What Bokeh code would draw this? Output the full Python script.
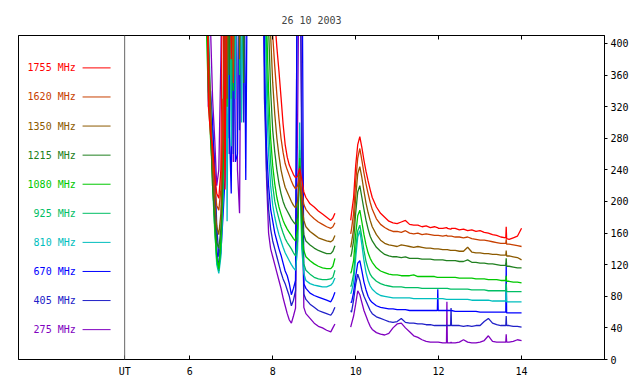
import math
from bokeh.plotting import figure
from bokeh.models import Range1d, LinearAxis, FixedTicker, Span
from bokeh.embed import file_html
from bokeh.resources import INLINE
from bokeh.core.properties import value

TITLE = "26 10 2003"
labels = ["1755 MHz", "1620 MHz", "1350 MHz", "1215 MHz", "1080 MHz",
          "925 MHz", "810 MHz", "670 MHz", "405 MHz", "275 MHz"]
colors = ["#ff0000", "#c84000", "#8c5a00", "#208020", "#00c800",
          "#00be64", "#00bebe", "#0000ff", "#2020c8", "#8000c0"]

x_ticks = [6, 8, 10, 12, 14]
y_ticks = [0, 40, 80, 120, 160, 200, 240, 280, 320, 360, 400]
UT_POS = 4.43

# time (UT hours), first part: burst and decay, second part after data gap
t_a = [6.40, 6.45, 6.50, 6.55, 6.60, 6.65, 6.70, 6.75, 6.80, 6.85, 6.90, 6.95, 7.00,
       7.05, 7.10, 7.15, 7.20, 7.25, 7.30, 7.35, 7.40,
       7.75, 7.80, 7.85, 7.90, 7.95, 8.00, 8.05, 8.10, 8.15, 8.20, 8.25, 8.30, 8.35,
       8.40, 8.45, 8.50, 8.55, 8.60, 8.65, 8.70, 8.75, 8.80, 8.90, 9.00, 9.10, 9.20,
       9.30, 9.40, 9.45, 9.50]
t_b = [9.88, 9.90, 9.95, 10.0, 10.05, 10.1, 10.15, 10.2, 10.25, 10.3, 10.35, 10.4,
       10.5, 10.6, 10.7, 10.8, 10.9, 11.0, 11.1, 11.2, 11.3, 11.4, 11.5, 11.6, 11.7,
       11.8, 11.9, 11.97, 11.98, 11.99, 12.1, 12.19, 12.2, 12.21, 12.29, 12.3, 12.31,
       12.4, 12.5, 12.6, 12.7, 12.8, 12.9, 13.0, 13.1, 13.2, 13.3, 13.4, 13.5, 13.62,
       13.63, 13.64, 13.7, 13.8, 13.9, 14.0]

s1755_a = [600, 320, 285, 270, 235, 210, 204, 240, 600, 215, 600, 600, 380, 600, 600, 600, 600, 600, 600, 600, 600,
           600, 600, 600, 600, 600, 600, 430, 395, 365, 332, 298, 272, 256, 246, 240, 234, 230, 232, 242, 228, 212,
           205, 197, 193, 188, 184, 180, 176, 179, 185]
s1620_a = [600, 360, 300, 255, 218, 195, 189, 215, 330, 240, 600, 600, 600, 350, 600, 600, 600, 600, 600, 600, 600,
           600, 600, 600, 600, 600, 410, 370, 335, 305, 280, 262, 248, 240, 233, 226, 220, 216, 220, 232, 212, 196,
           190, 183, 178, 174, 171, 168, 166, 168, 173]
s1350_a = [600, 390, 330, 240, 200, 168, 158, 185, 280, 600, 330, 600, 600, 600, 600, 600, 380, 600, 600, 600, 600,
           600, 600, 600, 600, 410, 350, 310, 280, 258, 240, 228, 218, 212, 206, 200, 195, 192, 200, 235, 198, 176,
           168, 162, 158, 154, 152, 150, 149, 151, 157]
s1215_a = [600, 400, 300, 220, 180, 148, 141, 165, 250, 600, 600, 360, 600, 600, 600, 600, 600, 600, 350, 600, 600,
           600, 600, 600, 420, 340, 290, 262, 240, 223, 210, 200, 193, 188, 183, 178, 174, 171, 180, 245, 185, 158,
           150, 145, 141, 138, 136, 134, 134, 137, 144]
s1080_a = [420, 330, 280, 230, 170, 130, 115, 150, 230, 600, 320, 600, 600, 340, 600, 600, 600, 600, 600, 600, 600,
           600, 600, 430, 340, 280, 245, 222, 205, 193, 184, 176, 170, 165, 161, 157, 153, 150, 165, 255, 165, 138,
           130, 125, 121, 118, 116, 115, 115, 118, 128]
s925_a = [600, 360, 300, 220, 165, 125, 112, 140, 210, 600, 600, 600, 330, 600, 600, 600, 360, 600, 600, 600, 600,
          600, 600, 380, 300, 250, 220, 200, 188, 178, 168, 160, 153, 148, 144, 140, 135, 131, 150, 265, 150, 121,
          113, 108, 104, 102, 101, 101, 102, 104, 113]
s810_a = [600, 420, 330, 250, 170, 120, 109, 130, 200, 600, 175, 600, 270, 600, 330, 600, 600, 300, 600, 600, 600,
          600, 520, 330, 260, 220, 195, 180, 168, 158, 150, 142, 135, 130, 125, 120, 116, 113, 140, 300, 140, 109,
          100, 96, 94, 93, 92, 92, 94, 97, 103]
s670_a = [600, 320, 340, 300, 220, 140, 118, 135, 180, 230, 600, 300, 210, 600, 250, 260, 600, 600, 600, 227, 600,
          600, 380, 270, 220, 190, 175, 160, 150, 140, 132, 122, 112, 106, 96, 82, 90, 100, 600, 600, 600, 96,
          90, 84, 81, 79, 77, 75, 73, 78, 85]
s405_a = [600, 340, 300, 290, 250, 170, 130, 150, 200, 300, 600, 280, 600, 260, 600, 600, 290, 600, 300, 600, 600,
          600, 330, 240, 190, 165, 150, 140, 130, 120, 110, 102, 96, 88, 80, 68, 75, 87, 600, 600, 250, 83,
          76, 70, 66, 62, 60, 58, 56, 60, 66]
s275_a = [600, 600, 420, 330, 280, 220, 240, 380, 600, 600, 600, 260, 600, 250, 600, 240, 185, 600, 600, 600, 600,
          600, 400, 230, 160, 140, 130, 120, 110, 100, 90, 78, 68, 58, 50, 46, 55, 65, 300, 600, 300, 66,
          58, 52, 46, 42, 40, 37, 35, 40, 45]

s1755_b = [176, 185, 205, 245, 272, 282, 268, 252, 238, 226, 215, 205, 193, 185, 180, 175, 173, 172, 174, 176,
           171, 170, 170, 168, 169, 167, 168, 167, 167, 166, 166, 167, 167, 166, 165, 165, 166, 166, 164, 165,
           163, 164, 162, 163, 161, 160, 158, 157, 155, 154, 168, 153, 152, 154, 156, 166]
s1620_b = [159, 165, 185, 225, 255, 267, 252, 236, 222, 210, 199, 190, 178, 171, 167, 164, 162, 162, 161, 163,
           160, 159, 160, 158, 159, 158, 157, 157, 157, 157, 156, 157, 157, 156, 156, 156, 156, 155, 155, 154,
           155, 153, 152, 151, 151, 150, 149, 148, 147, 147, 152, 146, 146, 145, 144, 143]
s1350_b = [142, 148, 165, 205, 235, 244, 230, 213, 198, 186, 176, 168, 158, 151, 147, 145, 144, 143, 145, 144,
           143, 142, 143, 142, 141, 141, 140, 140, 140, 140, 139, 139, 139, 139, 138, 138, 138, 138, 137, 137,
           142, 136, 135, 135, 134, 134, 133, 133, 132, 132, 138, 131, 131, 130, 129, 126]
s1215_b = [130, 134, 150, 185, 212, 220, 205, 190, 176, 165, 156, 150, 142, 137, 133, 131, 130, 130, 129, 130,
           128, 128, 128, 127, 127, 127, 126, 126, 126, 126, 126, 125, 125, 125, 125, 125, 125, 125, 124, 124,
           126, 123, 123, 122, 122, 121, 121, 120, 119, 119, 128, 118, 118, 117, 116, 116]
s1080_b = [109, 112, 125, 158, 182, 189, 174, 158, 145, 135, 128, 123, 116, 112, 110, 108, 107, 107, 106, 106,
           106, 107, 105, 105, 105, 105, 105, 104, 104, 104, 104, 104, 104, 104, 104, 104, 104, 104, 103, 103,
           103, 103, 102, 102, 102, 101, 101, 101, 100, 100, 106, 99, 99, 98, 98, 97]
s925_b = [92, 95, 108, 140, 163, 170, 155, 138, 124, 115, 108, 104, 99, 96, 94, 93, 92, 92, 92, 91,
          91, 91, 91, 90, 90, 90, 90, 90, 90, 90, 90, 90, 90, 90, 89, 89, 89, 89, 89, 89,
          89, 88, 88, 88, 88, 87, 87, 87, 87, 87, 96, 86, 86, 86, 86, 86]
s810_b = [83, 86, 98, 128, 155, 163, 145, 125, 110, 100, 93, 89, 84, 81, 80, 79, 78, 78, 78, 78,
          78, 77, 77, 77, 77, 77, 77, 77, 77, 77, 77, 76, 76, 76, 76, 76, 76, 76, 76, 76,
          76, 75, 75, 75, 75, 75, 74, 74, 74, 74, 95, 73, 73, 73, 73, 73]
s670_b = [73, 72, 85, 105, 122, 125, 112, 98, 88, 80, 75, 72, 68, 66, 65, 64, 64, 63, 63, 63,
          62, 62, 62, 62, 62, 62, 62, 62, 89, 62, 62, 62, 62, 62, 62, 62, 62, 61, 61, 61,
          61, 61, 61, 60, 60, 60, 60, 60, 60, 60, 122, 59, 59, 59, 59, 59]
s405_b = [62, 60, 75, 95, 108, 100, 88, 80, 74, 68, 62, 58, 54, 52, 50, 48, 47, 48, 52, 47,
          46, 46, 45, 45, 44, 44, 43, 43, 43, 43, 43, 43, 43, 43, 43, 65, 43, 43, 43, 42,
          43, 42, 43, 43, 48, 52, 46, 44, 43, 43, 55, 43, 43, 42, 42, 41]
s275_b = [41, 45, 55, 70, 87, 82, 72, 62, 55, 48, 42, 38, 34, 32, 31, 33, 40, 45, 46, 40,
          35, 30, 28, 25, 23, 22, 22, 22, 22, 22, 21, 21, 73, 21, 21, 22, 21, 21, 22, 25,
          22, 21, 21, 22, 24, 30, 23, 22, 22, 22, 32, 22, 22, 23, 25, 24]

series_a = [s1755_a, s1620_a, s1350_a, s1215_a, s1080_a, s925_a, s810_a, s670_a, s405_a, s275_a]
series_b = [s1755_b, s1620_b, s1350_b, s1215_b, s1080_b, s925_b, s810_b, s670_b, s405_b, s275_b]

FONT = "DejaVu Sans Mono"

p = figure(frame_width=586, frame_height=324,
           x_range=Range1d(1.87, 16.0), y_range=Range1d(0, 410),
           x_axis_location=None, y_axis_location=None,
           output_backend="svg", toolbar_location=None,
           min_border_left=18, min_border_top=35, min_border_right=10, min_border_bottom=5)
p.grid.visible = False
p.outline_line_color = "black"
p.outline_line_width = 1
p.background_fill_color = "white"
p.border_fill_color = "white"

p.title.text = TITLE
p.title.align = "center"
p.title.text_font = FONT
p.title.text_font_size = "10px"
p.title.text_font_style = "normal"
p.title.standoff = 20

def style_axis(ax):
    ax.axis_line_color = "black"
    ax.major_tick_line_color = "black"
    ax.minor_tick_line_color = None
    ax.major_label_text_font = FONT
    ax.major_label_text_font_size = "10px"
    ax.major_label_text_color = "black"

bottom = LinearAxis(ticker=FixedTicker(ticks=[UT_POS] + x_ticks))
style_axis(bottom)
bottom.major_tick_in = 4
bottom.major_tick_out = 0
bottom.major_label_standoff = 6
overrides = {UT_POS: "UT"}
for t in x_ticks:
    overrides[float(t)] = str(t)
bottom.major_label_overrides = overrides
p.add_layout(bottom, "below")

top = LinearAxis(ticker=FixedTicker(ticks=x_ticks))
style_axis(top)
top.major_tick_in = 4
top.major_tick_out = 0
top.major_label_text_font_size = "1px"
top.major_label_text_color = None
top.major_label_standoff = 0
p.add_layout(top, "above")

right = LinearAxis(ticker=FixedTicker(ticks=y_ticks))
style_axis(right)
right.major_tick_in = 0
right.major_tick_out = 3
right.major_label_standoff = 3
p.add_layout(right, "right")

p.add_layout(Span(location=UT_POS, dimension="height", line_color="#666666", line_width=1))

nan = float("nan")
for i in reversed(range(len(labels))):
    xs = t_a + [nan] + t_b
    ys = series_a[i] + [nan] + series_b[i]
    p.line(xs, ys, line_color=colors[i], line_width=1.3)

# legend (label left, line sample right)
LEG_TOP = 369.0
LEG_STEP = 36.8
leg_y = [LEG_TOP - LEG_STEP * i for i in range(len(labels))]
p.text(x=[3.25] * len(labels), y=leg_y, text=labels, text_color=colors,
       text_align="right", text_baseline="middle",
       text_font=value(FONT), text_font_size="10px")
p.segment(x0=[3.415] * len(labels), x1=[4.09] * len(labels), y0=leg_y, y1=leg_y,
          line_color=colors, line_width=1)

open("out.html", "w").write(file_html(p, INLINE))
